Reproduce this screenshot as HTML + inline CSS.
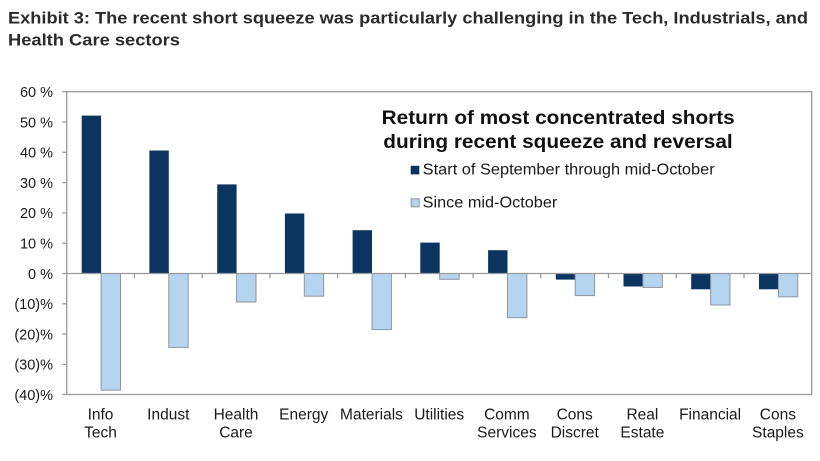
<!DOCTYPE html>
<html>
<head>
<meta charset="utf-8">
<style>
  html, body { margin: 0; padding: 0; background: #ffffff; }
  svg { display: block; }
  text { font-family: "Liberation Sans", Arial, sans-serif; }
</style>
</head>
<body>
<svg width="820" height="461" viewBox="0 0 820 461" xmlns="http://www.w3.org/2000/svg">
  <rect x="0" y="0" width="820" height="461" fill="#ffffff"/>

  <!-- Title -->
  <text x="8" y="23.5" font-size="17" font-weight="bold" fill="#2b2b2b" textLength="800" lengthAdjust="spacingAndGlyphs">Exhibit 3: The recent short squeeze was particularly challenging in the Tech, Industrials, and</text>
  <text x="8" y="45.7" font-size="17" font-weight="bold" fill="#2b2b2b" textLength="172" lengthAdjust="spacingAndGlyphs">Health Care sectors</text>

  <!-- Plot frame -->
  <rect x="66.7" y="91.7" width="745" height="302.8" fill="none" stroke="#9a9a9a" stroke-width="1.3"/>

  <!-- Y ticks -->
  <g stroke="#9a9a9a" stroke-width="1.3">
    <line x1="62.3" y1="91.7" x2="66.7" y2="91.7"/>
    <line x1="62.3" y1="122" x2="66.7" y2="122"/>
    <line x1="62.3" y1="152.3" x2="66.7" y2="152.3"/>
    <line x1="62.3" y1="182.6" x2="66.7" y2="182.6"/>
    <line x1="62.3" y1="212.9" x2="66.7" y2="212.9"/>
    <line x1="62.3" y1="243.2" x2="66.7" y2="243.2"/>
    <line x1="62.3" y1="273.5" x2="66.7" y2="273.5"/>
    <line x1="62.3" y1="303.8" x2="66.7" y2="303.8"/>
    <line x1="62.3" y1="334.1" x2="66.7" y2="334.1"/>
    <line x1="62.3" y1="364.4" x2="66.7" y2="364.4"/>
    <line x1="62.3" y1="394.5" x2="66.7" y2="394.5"/>
  </g>

  <!-- Y labels -->
  <g font-size="14.5" fill="#1a1a1a" text-anchor="end">
    <text x="53" y="97">60 %</text>
    <text x="53" y="127.3">50 %</text>
    <text x="53" y="157.6">40 %</text>
    <text x="53" y="187.9">30 %</text>
    <text x="53" y="218.2">20 %</text>
    <text x="53" y="248.5">10 %</text>
    <text x="53" y="278.8">0 %</text>
    <text x="53" y="309.1">(10)%</text>
    <text x="53" y="339.4">(20)%</text>
    <text x="53" y="369.7">(30)%</text>
    <text x="53" y="400">(40)%</text>
  </g>

  <!-- Dark bars (Start of September through mid-October) -->
  <g fill="#0c3461">
    <rect x="81.7" y="115.6" width="19.4" height="157.9"/>
    <rect x="149.4" y="150.5" width="19.4" height="123.0"/>
    <rect x="217.2" y="184.4" width="19.4" height="89.1"/>
    <rect x="284.9" y="213.5" width="19.4" height="60.0"/>
    <rect x="352.6" y="230.2" width="19.4" height="43.3"/>
    <rect x="420.3" y="242.6" width="19.4" height="30.9"/>
    <rect x="488.1" y="250.2" width="19.4" height="23.3"/>
    <rect x="555.8" y="273.5" width="19.4" height="6.1"/>
    <rect x="623.5" y="273.5" width="19.4" height="13.0"/>
    <rect x="691.2" y="273.5" width="19.4" height="15.8"/>
    <rect x="759.0" y="273.5" width="19.4" height="15.8"/>
  </g>

  <!-- Light bars (Since mid-October) -->
  <g fill="#b5d4ef" stroke="#8e969e" stroke-width="1">
    <rect x="101.1" y="273.5" width="19.4" height="116.7"/>
    <rect x="168.8" y="273.5" width="19.4" height="73.9"/>
    <rect x="236.6" y="273.5" width="19.4" height="28.5"/>
    <rect x="304.3" y="273.5" width="19.4" height="22.7"/>
    <rect x="372.0" y="273.5" width="19.4" height="56.1"/>
    <rect x="439.7" y="273.5" width="19.4" height="5.8"/>
    <rect x="507.5" y="273.5" width="19.4" height="44.2"/>
    <rect x="575.2" y="273.5" width="19.4" height="22.1"/>
    <rect x="642.9" y="273.5" width="19.4" height="13.9"/>
    <rect x="710.6" y="273.5" width="19.4" height="31.5"/>
    <rect x="778.4" y="273.5" width="19.4" height="23.3"/>
  </g>

  <!-- Zero line and category ticks -->
  <g stroke="#9a9a9a" stroke-width="1.3">
    <line x1="66.7" y1="273.5" x2="811.7" y2="273.5"/>
    <line x1="134.4" y1="273.5" x2="134.4" y2="278.3"/>
    <line x1="202.2" y1="273.5" x2="202.2" y2="278.3"/>
    <line x1="269.9" y1="273.5" x2="269.9" y2="278.3"/>
    <line x1="337.6" y1="273.5" x2="337.6" y2="278.3"/>
    <line x1="405.3" y1="273.5" x2="405.3" y2="278.3"/>
    <line x1="473.1" y1="273.5" x2="473.1" y2="278.3"/>
    <line x1="540.8" y1="273.5" x2="540.8" y2="278.3"/>
    <line x1="608.5" y1="273.5" x2="608.5" y2="278.3"/>
    <line x1="676.2" y1="273.5" x2="676.2" y2="278.3"/>
    <line x1="744.0" y1="273.5" x2="744.0" y2="278.3"/>
  </g>

  <!-- Legend -->
  <text x="381.7" y="124" font-size="19" font-weight="bold" fill="#111" textLength="353" lengthAdjust="spacingAndGlyphs">Return of most concentrated shorts</text>
  <text x="383.3" y="148" font-size="19" font-weight="bold" fill="#111" textLength="349.4" lengthAdjust="spacingAndGlyphs">during recent squeeze and reversal</text>

  <rect x="410.7" y="165.8" width="8.6" height="8.6" fill="#0c3461"/>
  <text x="422.7" y="174.3" font-size="15.5" fill="#1a1a1a" textLength="292" lengthAdjust="spacingAndGlyphs">Start of September through mid-October</text>

  <rect x="411.2" y="198.8" width="8" height="8" fill="#b5d4ef" stroke="#8e969e" stroke-width="1"/>
  <text x="422.7" y="207.5" font-size="15.5" fill="#1a1a1a" textLength="134.6" lengthAdjust="spacingAndGlyphs">Since mid-October</text>

  <!-- Category labels -->
  <g font-size="15.5" fill="#1a1a1a" text-anchor="middle">
    <text x="100.5" y="419.3">Info</text>
    <text x="100.5" y="437.3">Tech</text>
    <text x="168.3" y="419.3">Indust</text>
    <text x="236.0" y="419.3">Health</text>
    <text x="236.0" y="437.3">Care</text>
    <text x="303.7" y="419.3">Energy</text>
    <text x="371.5" y="419.3">Materials</text>
    <text x="439.2" y="419.3">Utilities</text>
    <text x="506.9" y="419.3">Comm</text>
    <text x="506.9" y="437.3">Services</text>
    <text x="574.7" y="419.3">Cons</text>
    <text x="574.7" y="437.3">Discret</text>
    <text x="642.4" y="419.3">Real</text>
    <text x="642.4" y="437.3">Estate</text>
    <text x="710.1" y="419.3">Financial</text>
    <text x="777.9" y="419.3">Cons</text>
    <text x="777.9" y="437.3">Staples</text>
  </g>
</svg>
</body>
</html>
